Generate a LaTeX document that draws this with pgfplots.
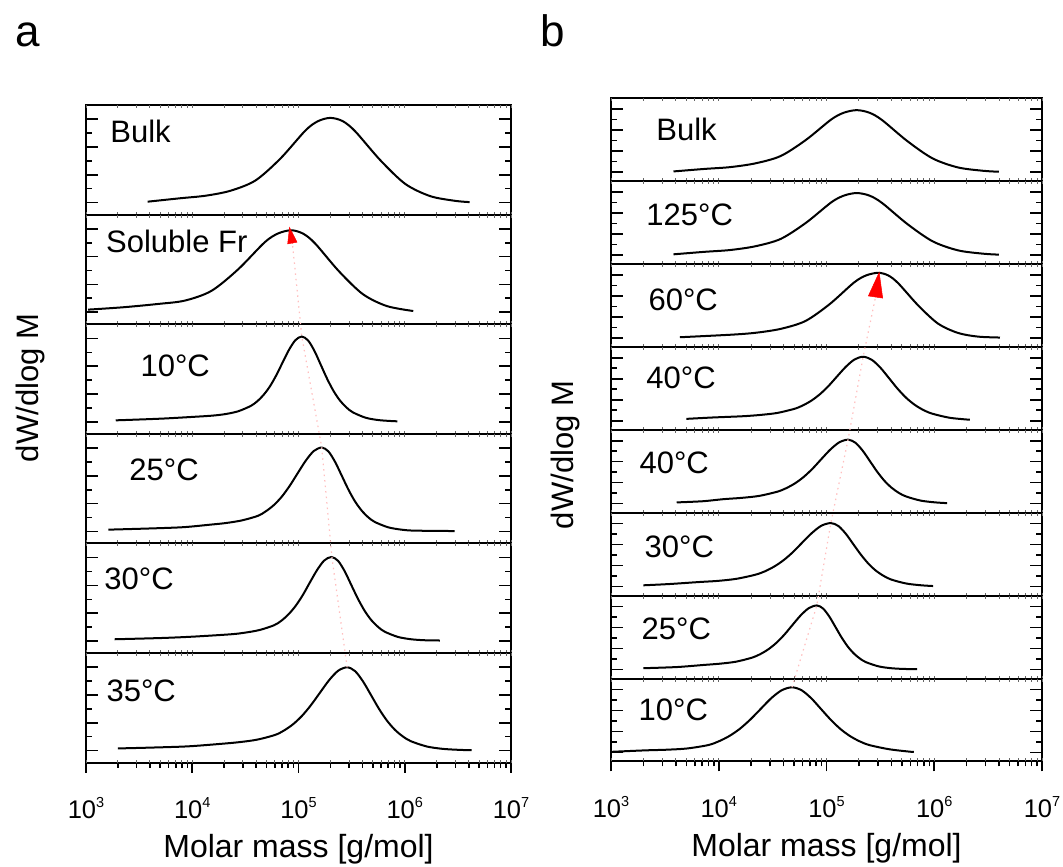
\documentclass[border=0pt]{standalone}
\usepackage{fontspec}
\setmainfont{Liberation Sans}
\usepackage{pgfplots}
\pgfplotsset{compat=1.18}
\usetikzlibrary{arrows.meta}
\newcommand\lab{\fontsize{31}{36}\selectfont}
\newcommand\xlab{\fontsize{32}{36}\selectfont}
\newcommand\tck{\fontsize{25.5}{30}\selectfont}
\newcommand\tl[1]{10\raisebox{0.45em}{\fontsize{14.5}{15}\selectfont #1}}
\pgfplotsset{
  sub/.style={
    scale only axis, height=#1,
    xmin=3, xmax=7, ymin=-0.087, ymax=0.703,
    ytick={0,0.2,0.4,0.6}, minor ytick={0.1,0.3,0.5}, yticklabels={},
    xtick=\empty,
    extra x ticks={3,3.301,3.477,3.602,3.699,3.778,3.845,3.903,3.954,4,4.301,4.477,4.602,4.699,4.778,4.845,4.903,4.954,5,5.301,5.477,5.602,5.699,5.778,5.845,5.903,5.954,6,6.301,6.477,6.602,6.699,6.778,6.845,6.903,6.954,7},
    extra x tick labels={},
    extra x tick style={major tick length=3pt, every tick/.style={black!60,line width=1pt}},
    tick align=inside, major tick length=12pt, minor tick length=6pt,
    axis line style={line width=2pt},
    every tick/.style={black,line width=1.6pt},
  },
  crv/.style={black, line width=2pt, smooth, no markers},
  bot/.style={
    scale only axis, height=40pt, anchor=south west,
    xmin=3, xmax=7, ymin=0, ymax=1,
    hide y axis, axis line style={draw=none},
    xtick pos=left, xticklabel pos=left,
    xtick={3,4,5,6,7},
    xticklabels={\tl{3},\tl{4},\tl{5},\tl{6},\tl{7}},
    minor xtick={3.301,3.477,3.602,3.699,3.778,3.845,3.903,3.954,4.301,4.477,4.602,4.699,4.778,4.845,4.903,4.954,5.301,5.477,5.602,5.699,5.778,5.845,5.903,5.954,6.301,6.477,6.602,6.699,6.778,6.845,6.903,6.954},
    tick align=outside, major tick length=10pt, minor tick length=5pt,
    every tick/.style={black,line width=1.6pt},
    xticklabel style={font=\tck, anchor=north, yshift=-21pt},
    xlabel={Molar mass [g/mol]},
    xlabel style={font=\xlab, at={(axis description cs:0.5,0)}, anchor=center, yshift=-87pt},
  },
}
\begin{document}
\begin{tikzpicture}
\path[use as bounding box] (0,0) rectangle (1063pt,867pt);
% ---------------- panel a ----------------
\begin{axis}[sub=109.6pt, width=425pt, at={(86pt,762pt)}, anchor=north west]
\addplot[crv] coordinates {(3.58,0.006) (3.89,0.031) (4.125,0.049) (4.36,0.085) (4.595,0.159) (4.83,0.317) (5.065,0.519) (5.1825,0.586) (5.30,0.61) (5.4175,0.586) (5.535,0.512) (5.77,0.305) (6.005,0.134) (6.24,0.046) (6.475,0.012) (6.61,0.003)};
\node[anchor=base west,font=\lab] at (rel axis cs:0.049,0.662) {Bulk};
\end{axis}
\begin{axis}[sub=109.6pt, width=425pt, at={(86pt,652.4pt)}, anchor=north west]
\addplot[crv] coordinates {(3.02,0.018) (3.35,0.035) (3.68,0.059) (3.93,0.083) (4.18,0.153) (4.43,0.307) (4.68,0.502) (4.805,0.566) (4.93,0.59) (5.0425,0.566) (5.155,0.496) (5.38,0.295) (5.605,0.130) (5.83,0.044) (6.08,0.008)};
\node[anchor=base west,font=\lab] at (rel axis cs:0.039,0.656) {Soluble Fr};
\end{axis}
\begin{axis}[sub=109.6pt, width=425pt, at={(86pt,542.8pt)}, anchor=north west]
\addplot[crv] coordinates {(3.28,0.010) (3.431,0.014) (3.731,0.023) (4.031,0.036) (4.191,0.044) (4.311,0.055) (4.431,0.075) (4.551,0.114) (4.611,0.147) (4.671,0.193) (4.731,0.255) (4.791,0.335) (4.851,0.428) (4.911,0.519) (4.971,0.588) (5.031,0.614) (5.091,0.585) (5.151,0.509) (5.211,0.408) (5.271,0.307) (5.331,0.220) (5.391,0.152) (5.451,0.103) (5.511,0.068) (5.631,0.029) (5.751,0.012) (5.871,0.005) (5.93,0.003)};
\node[anchor=base west,font=\lab] at (rel axis cs:0.12,0.527) {10°C};
\end{axis}
\begin{axis}[sub=109.6pt, width=425pt, at={(86pt,433.2pt)}, anchor=north west]
\addplot[crv] coordinates {(3.21,0.012) (3.619,0.021) (3.919,0.030) (4.169,0.048) (4.319,0.060) (4.469,0.079) (4.619,0.112) (4.694,0.145) (4.769,0.190) (4.844,0.251) (4.919,0.330) (4.994,0.421) (5.069,0.510) (5.144,0.579) (5.219,0.604) (5.2815,0.576) (5.344,0.501) (5.4065,0.402) (5.469,0.302) (5.5315,0.216) (5.594,0.150) (5.6565,0.101) (5.719,0.067) (5.844,0.029) (5.969,0.012) (6.094,0.005) (6.47,0.002)};
\node[anchor=base west,font=\lab] at (rel axis cs:0.094,0.578) {25°C};
\end{axis}
\begin{axis}[sub=109.6pt, width=425pt, at={(86pt,323.6pt)}, anchor=north west]
\addplot[crv] coordinates {(3.27,0.012) (3.71,0.021) (4.01,0.031) (4.365,0.048) (4.50,0.060) (4.635,0.079) (4.77,0.113) (4.8375,0.145) (4.905,0.191) (4.9725,0.252) (5.04,0.330) (5.1075,0.422) (5.175,0.511) (5.2425,0.580) (5.31,0.605) (5.3725,0.577) (5.435,0.502) (5.4975,0.402) (5.56,0.303) (5.6225,0.217) (5.685,0.150) (5.7475,0.102) (5.81,0.067) (5.935,0.029) (6.06,0.012) (6.185,0.005) (6.33,0.003)};
\node[anchor=base west,font=\lab] at (rel axis cs:0.035,0.575) {30°C};
\end{axis}
\begin{axis}[sub=109.6pt, width=425pt, at={(86pt,214pt)}, anchor=north west, clip=false]
\addplot[crv] coordinates {(3.30,0.015) (3.608,0.021) (3.958,0.030) (4.268,0.048) (4.438,0.060) (4.608,0.078) (4.778,0.112) (4.863,0.144) (4.948,0.189) (5.033,0.250) (5.118,0.328) (5.203,0.418) (5.288,0.507) (5.373,0.575) (5.458,0.60) (5.533,0.572) (5.608,0.497) (5.683,0.399) (5.758,0.30) (5.833,0.215) (5.908,0.149) (5.983,0.101) (6.058,0.067) (6.208,0.029) (6.358,0.012) (6.508,0.005) (6.63,0.002)};
\node[anchor=base west,font=\lab] at (rel axis cs:0.04,0.553) {35°C};
\addplot[red!25, line width=1.2pt, dash pattern=on 1.5pt off 4pt, no markers] coordinates {(5.458,0.60) (5.314,1.395) (5.219,2.184) (5.031,2.984) (4.943,3.654)};
\addplot[red, line width=0.5pt, no markers, -{Triangle[length=17pt,width=10pt]}] coordinates {(4.943,3.654) (4.914,3.777)};
\end{axis}
\begin{axis}[bot, width=425pt, at={(86pt,104.4pt)}]
\end{axis}
% ---------------- panel b ----------------
\begin{axis}[sub=82.9pt, width=431pt, at={(611pt,768.7pt)}, anchor=north west]
\addplot[crv] coordinates {(3.58,0.006) (3.87,0.030) (4.105,0.047) (4.34,0.083) (4.575,0.153) (4.81,0.307) (5.045,0.502) (5.1625,0.566) (5.28,0.59) (5.3975,0.566) (5.515,0.496) (5.75,0.295) (5.985,0.130) (6.22,0.044) (6.455,0.012) (6.60,0.003)};
\node[anchor=base west,font=\lab] at (rel axis cs:0.097,0.489) {Bulk};
\end{axis}
\begin{axis}[sub=82.9pt, width=431pt, at={(611pt,685.8pt)}, anchor=north west]
\addplot[crv] coordinates {(3.58,0.006) (3.87,0.030) (4.105,0.047) (4.34,0.083) (4.575,0.153) (4.81,0.307) (5.045,0.502) (5.1625,0.566) (5.28,0.59) (5.3975,0.566) (5.515,0.496) (5.75,0.295) (5.985,0.130) (6.22,0.044) (6.455,0.012) (6.60,0.003)};
\node[anchor=base west,font=\lab] at (rel axis cs:0.074,0.47) {125°C};
\end{axis}
\begin{axis}[sub=82.9pt, width=431pt, at={(611pt,602.9pt)}, anchor=north west]
\addplot[crv] coordinates {(3.64,0.006) (4.13,0.031) (4.355,0.050) (4.58,0.087) (4.805,0.161) (5.03,0.322) (5.255,0.527) (5.3675,0.595) (5.48,0.62) (5.5725,0.595) (5.665,0.521) (5.85,0.31) (6.035,0.136) (6.22,0.047) (6.405,0.012) (6.61,0.003)};
\node[anchor=base west,font=\lab] at (rel axis cs:0.079,0.446) {60°C};
\end{axis}
\begin{axis}[sub=82.9pt, width=431pt, at={(611pt,520pt)}, anchor=north west]
\addplot[crv] coordinates {(3.70,0.018) (3.94,0.031) (4.22,0.043) (4.38,0.055) (4.54,0.074) (4.70,0.113) (4.78,0.146) (4.86,0.192) (4.94,0.254) (5.02,0.333) (5.10,0.425) (5.18,0.515) (5.26,0.584) (5.34,0.61) (5.42,0.581) (5.50,0.506) (5.58,0.406) (5.66,0.305) (5.74,0.218) (5.82,0.151) (5.90,0.102) (5.98,0.068) (6.14,0.029) (6.30,0.012) (6.33,0.010)};
\node[anchor=base west,font=\lab] at (rel axis cs:0.074,0.50) {40°C};
\end{axis}
\begin{axis}[sub=82.9pt, width=431pt, at={(611pt,437.1pt)}, anchor=north west]
\addplot[crv] coordinates {(3.61,0.012) (3.85,0.023) (4.045,0.043) (4.21,0.055) (4.375,0.074) (4.54,0.113) (4.6225,0.146) (4.705,0.192) (4.7875,0.254) (4.87,0.333) (4.9525,0.425) (5.035,0.515) (5.1175,0.584) (5.20,0.61) (5.2675,0.581) (5.335,0.506) (5.4025,0.406) (5.47,0.305) (5.5375,0.218) (5.605,0.151) (5.6725,0.102) (5.74,0.068) (5.875,0.029) (6.01,0.012) (6.12,0.005)};
\node[anchor=base west,font=\lab] at (rel axis cs:0.058,0.47) {40°C};
\end{axis}
\begin{axis}[sub=82.9pt, width=431pt, at={(611pt,354.2pt)}, anchor=north west]
\addplot[crv] coordinates {(3.30,0.012) (3.54,0.024) (3.815,0.043) (3.99,0.054) (4.165,0.074) (4.34,0.113) (4.4275,0.145) (4.515,0.191) (4.6025,0.252) (4.69,0.330) (4.7775,0.422) (4.865,0.511) (4.9525,0.580) (5.04,0.605) (5.11,0.577) (5.18,0.502) (5.25,0.402) (5.32,0.303) (5.39,0.217) (5.46,0.150) (5.53,0.102) (5.60,0.067) (5.74,0.029) (5.88,0.012) (5.99,0.005)};
\node[anchor=base west,font=\lab] at (rel axis cs:0.07,0.455) {30°C};
\end{axis}
\begin{axis}[sub=82.9pt, width=431pt, at={(611pt,271.3pt)}, anchor=north west]
\addplot[crv] coordinates {(3.30,0.012) (3.61,0.023) (3.86,0.043) (4.01,0.055) (4.16,0.074) (4.31,0.113) (4.385,0.146) (4.46,0.192) (4.535,0.254) (4.61,0.333) (4.685,0.425) (4.76,0.515) (4.835,0.584) (4.91,0.61) (4.9675,0.581) (5.025,0.506) (5.0825,0.406) (5.14,0.305) (5.1975,0.218) (5.255,0.151) (5.3125,0.102) (5.37,0.068) (5.485,0.029) (5.60,0.012) (5.715,0.005) (5.84,0.003)};
\node[anchor=base west,font=\lab] at (rel axis cs:0.063,0.466) {25°C};
\end{axis}
\begin{axis}[sub=82.9pt, width=431pt, at={(611pt,188.4pt)}, anchor=north west, clip=false]
\addplot[crv] coordinates {(3.00,0.005) (3.315,0.019) (3.51,0.025) (3.705,0.037) (3.90,0.069) (3.9975,0.104) (4.095,0.154) (4.1925,0.222) (4.29,0.31) (4.3875,0.412) (4.485,0.514) (4.5825,0.591) (4.68,0.62) (4.77,0.591) (4.86,0.514) (4.95,0.412) (5.04,0.31) (5.13,0.222) (5.22,0.154) (5.31,0.104) (5.40,0.069) (5.58,0.030) (5.76,0.008) (5.81,0.004)};
\node[anchor=base west,font=\lab] at (rel axis cs:0.056,0.50) {10°C};
\addplot[red!25, line width=1.2pt, dash pattern=on 1.5pt off 4pt, no markers] coordinates {(4.68,0.62) (4.91,1.40) (5.04,2.185) (5.20,2.98) (5.34,3.77) (5.455,4.34)};
\addplot[red, line width=0.5pt, no markers, -{Triangle[length=26pt,width=15pt]}] coordinates {(5.455,4.34) (5.49,4.582)};
\end{axis}
\begin{axis}[bot, width=431pt, at={(611pt,105.5pt)}]
\end{axis}
% labels
\node[rotate=90,font=\lab] at (30pt,479pt) {dW/dlog M};
\node[rotate=90,font=\lab] at (565pt,412pt) {dW/dlog M};
\node[anchor=base west,font=\fontsize{44}{50}\selectfont] at (12pt,820pt) {a};
\node[anchor=base west,font=\fontsize{44}{50}\selectfont] at (537pt,820pt) {b};
\end{tikzpicture}
\end{document}
